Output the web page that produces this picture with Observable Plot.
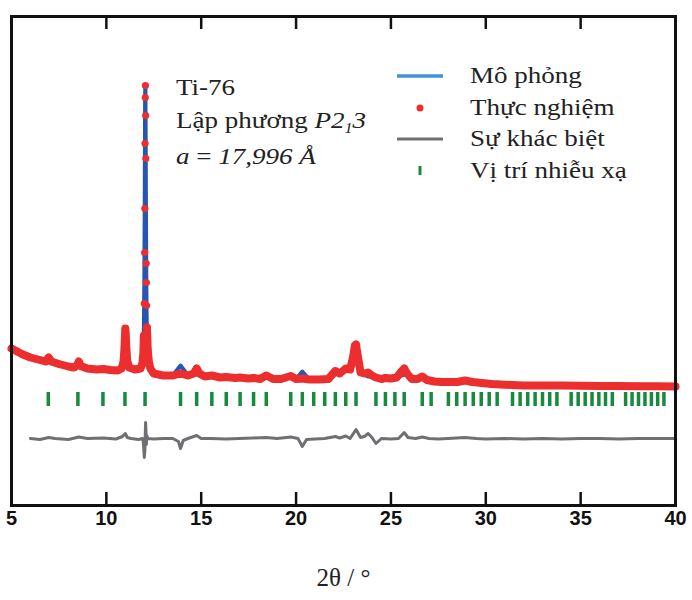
<!DOCTYPE html>
<html><head><meta charset="utf-8">
<script src="https://cdn.jsdelivr.net/npm/d3@7"></script>
<script src="https://cdn.jsdelivr.net/npm/@observablehq/plot@0.6"></script>
<style>
body{margin:0;background:#fff;}
#wrap{position:relative;width:692px;height:600px;}
.serif{font-family:"Liberation Serif","Times New Roman",serif;font-size:23.5px;color:#222;}
.wide{display:inline-block;transform:scaleX(1.15);transform-origin:0 50%;}
#legend{position:absolute;left:470px;top:60px;}
.row{position:relative;height:31.5px;line-height:31.5px;white-space:nowrap;}
.sw{position:absolute;left:-80px;top:0;width:80px;height:31.5px;}
#note{position:absolute;left:176px;top:71px;line-height:32.5px;white-space:nowrap;transform:scaleX(1.15);transform-origin:0 0;}
.sub{position:relative;top:5px;font-size:14px;}
</style></head>
<body>
<div id="wrap"><div id="chart"></div><div id="note" class="serif"></div><div id="legend" class="serif"></div></div>
<script>
// 2θ grid of the observed pattern (degrees)
const twoTheta = [5.0,5.3,5.6,6.0,6.4,6.8,6.96,7.1,7.5,8.0,8.3,8.45,8.55,8.65,9.0,9.5,9.85,10.2,10.6,10.8,10.9,10.95,10.98,11.0,11.02,11.05,11.1,11.2,11.5,11.8,11.9,11.95,11.98,12.00,12.02,12.03,12.04,12.05,12.06,12.07,12.08,12.10,12.11,12.12,12.14,12.18,12.24,12.32,12.5,13.0,13.5,13.91,14.3,14.6,14.76,14.9,15.2,15.56,16.0,16.32,16.8,17.05,17.5,17.76,18.1,18.43,18.8,19.2,19.72,20.0,20.33,20.7,21.2,21.7,22.07,22.3,22.62,22.85,23.0,23.1,23.16,23.25,23.4,23.6,23.79,24.0,24.21,24.5,24.71,25.0,25.3,25.55,25.70,25.85,26.1,26.4,26.65,26.9,27.3,27.7,28.1,28.5,28.9,29.3,29.8,30.3,30.8,31.4,32.0,33.0,34.0,35.0,36.0,37.0,38.0,39.0,40.0];
// observed intensity (a.u.)
const obsI = [1570,1540,1510,1480,1460,1440,1480,1440,1415,1390,1380,1400,1440,1395,1370,1360,1365,1355,1350,1370,1430,1560,1680,1770,1720,1590,1450,1380,1360,1370,1420,1520,1700,2020,2530,2970,3620,4080,4200,3900,3470,2420,2230,2000,1780,1560,1440,1370,1320,1300,1300,1320,1300,1320,1370,1320,1290,1300,1280,1285,1275,1280,1270,1275,1265,1300,1265,1265,1295,1265,1270,1260,1260,1265,1345,1320,1370,1360,1480,1600,1610,1500,1330,1320,1330,1300,1280,1265,1275,1270,1280,1340,1370,1320,1265,1265,1290,1255,1240,1235,1235,1235,1250,1235,1225,1215,1210,1205,1200,1200,1200,1198,1196,1195,1193,1192,1190];
// calculated intensity (a.u.)
const calcI = [1570,1540,1510,1480,1460,1440,1475,1440,1415,1390,1380,1400,1430,1395,1370,1360,1362,1355,1350,1368,1420,1530,1650,1720,1700,1580,1450,1380,1360,1370,1420,1540,1800,2210,2900,3400,3950,4200,4150,3740,3300,2480,2170,1940,1740,1560,1440,1370,1320,1300,1300,1400,1300,1320,1340,1320,1290,1300,1280,1285,1275,1280,1270,1275,1265,1290,1265,1265,1280,1265,1340,1260,1260,1265,1325,1320,1345,1360,1450,1540,1520,1490,1330,1310,1290,1300,1290,1265,1275,1270,1280,1300,1310,1310,1265,1265,1275,1255,1240,1235,1235,1235,1240,1235,1225,1215,1210,1205,1200,1200,1200,1198,1196,1195,1193,1192,1190];
// difference curve (obs - calc)
const diffTheta = [6.0,6.5,6.96,7.3,8.0,8.55,9.0,9.85,10.5,10.85,11.0,11.1,11.3,11.7,11.9,11.95,12.00,12.03,12.05,12.07,12.09,12.11,12.13,12.2,12.5,13.0,13.5,13.8,13.91,14.05,14.3,14.76,15.0,15.5,16.3,17.0,17.7,18.43,19.0,19.72,20.1,20.33,20.55,21.0,21.5,22.07,22.3,22.62,22.85,23.16,23.4,23.6,23.8,24.0,24.21,24.5,25.0,25.4,25.70,25.9,26.3,26.65,27.0,27.5,28.0,28.9,29.5,30.0,31.0,32.0,33.0,34.0,35.0,36.0,37.0,38.0,39.0,40.0];
const diffI = [0,-10,10,0,-10,15,0,5,-5,20,50,10,0,-10,0,-40,-190,-120,40,160,60,-60,30,0,-5,0,0,-30,-100,-20,0,30,0,0,-5,0,5,10,0,15,0,-80,-10,-5,0,20,5,25,0,90,10,20,50,10,-50,0,-5,0,60,10,0,15,0,-5,0,10,0,-5,0,-5,0,-5,0,0,-5,0,0,0];
// Bragg reflection positions (2θ, degrees)
const reflections = [6.94,8.50,9.82,10.98,12.04,13.91,14.76,15.56,16.32,17.05,17.76,18.43,19.72,20.33,20.93,21.51,22.07,22.62,23.16,24.21,24.71,25.21,25.70,26.65,27.12,28.03,28.47,28.91,29.34,29.76,30.18,30.60,31.41,31.81,32.21,32.60,32.99,33.37,33.75,34.50,34.87,35.24,35.60,35.96,36.31,36.67,37.37,37.71,38.05,38.39,38.73,39.06,39.39];
const xTickLabels = [5,10,15,20,25,30,35,40];
const xInnerTicks = [10,15,20,25,30,35];
const legendLabels = ["Mô phỏng","Thực nghiệm","Sự khác biệt","Vị trí nhiễu xạ"];
const noteLines = ["Ti-76", "Lập phương <i>P2<span class=\"sub\">1</span>3</i>", "<i>a</i> = <i>17,996 Å</i>"];

const RED = "#ec2e2e", BLUE = "#2656b0", GRAY = "#6e7073", GREEN = "#178a3e";
const LEG_BLUE = "#4592d4";
const YMAX = 4890, DIFF_BASE = 670, OBS_BAND_MAX = 1800;

const data = twoTheta.map((t, i) => ({t, obs: obsI[i], calc: calcI[i]}));
const diff = diffTheta.map((t, i) => ({t, d: diffI[i]}));

const chart = Plot.plot({
  width: 692, height: 600,
  marginLeft: 11, marginRight: 17, marginTop: 16, marginBottom: 95,
  x: {domain: [5, 40], axis: null},
  y: {domain: [0, YMAX], axis: null},
  marks: [
    Plot.line(data, {x: "t", y: "calc", stroke: BLUE, strokeWidth: 4}),
    Plot.line(data, {x: "t", y: d => d.obs > OBS_BAND_MAX ? NaN : d.obs, stroke: RED, strokeWidth: 8, strokeLinejoin: "round"}),
    Plot.dot(data, {x: "t", y: "obs", r: 3.6, fill: RED}),
    Plot.ruleX(reflections, {y1: 990, y2: 1130, stroke: GREEN, strokeWidth: 3.5}),
    Plot.line(diff, {x: "t", y: d => DIFF_BASE + d.d, stroke: GRAY, strokeWidth: 3}),
    Plot.ruleX(xInnerTicks, {y1: 0, y2: 130, stroke: "#111", strokeWidth: 2.5}),
    Plot.ruleX(xInnerTicks, {y1: YMAX - 130, y2: YMAX, stroke: "#111", strokeWidth: 2.5}),
    Plot.frame({stroke: "#111", strokeWidth: 3}),
    Plot.text(xTickLabels, {x: d => d, text: d => String(d), frameAnchor: "bottom", dy: 19, fontSize: 20, fontWeight: "bold", fontFamily: "Liberation Sans, Arial, sans-serif", fill: "#111"}),
    Plot.text(["2θ / °"], {text: d => d, frameAnchor: "bottom", dy: 80, fontSize: 25, fontFamily: "Liberation Serif, Times New Roman, serif", fill: "#222"})
  ]
});
document.getElementById("chart").appendChild(chart);

document.getElementById("note").innerHTML = noteLines.map(l => `<div>${l}</div>`).join("");

const swatches = [
  `<svg class="sw"><line x1="-73" x2="-27" y1="16" y2="16" stroke="${LEG_BLUE}" stroke-width="3.5" transform="translate(80,0)"/></svg>`,
  `<svg class="sw"><circle cx="30" cy="16" r="3.5" fill="${RED}"/></svg>`,
  `<svg class="sw"><line x1="7" x2="53" y1="16" y2="16" stroke="${GRAY}" stroke-width="3"/></svg>`,
  `<svg class="sw"><line x1="30" x2="30" y1="11" y2="20" stroke="${GREEN}" stroke-width="3"/></svg>`
];
document.getElementById("legend").innerHTML = legendLabels.map((l, i) => `<div class="row">${swatches[i]}<span class="wide">${l}</span></div>`).join("");
</script>
</body></html>
